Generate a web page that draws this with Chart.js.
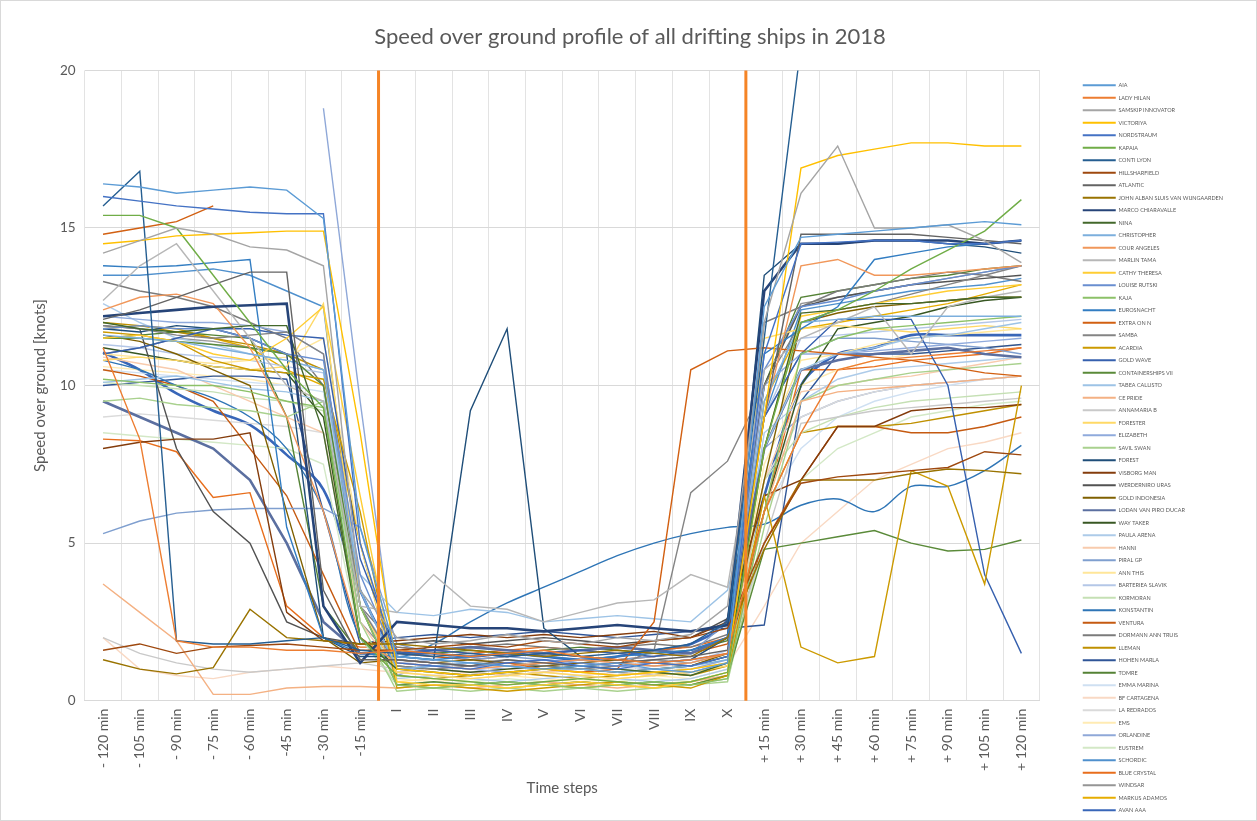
<!DOCTYPE html>
<html>
<head>
<meta charset="utf-8">
<script src="https://cdn.jsdelivr.net/npm/chart.js@4.4.1/dist/chart.umd.min.js"></script>
<style>
  html, body { margin: 0; padding: 0; background: #fff; }
  #wrap { width: 1255px; height: 819px; border: 1px solid #d9d9d9; }
</style>
</head>
<body>
<div id="wrap"><canvas id="sogChart" width="1255" height="819"></canvas></div>
<script>
// time steps: 8 before drift, 10 drift steps, 8 after
const timeSteps = ['- 120 min', '- 105 min', '- 90 min', '- 75 min', '- 60 min', '-45 min', '- 30 min', '-15 min',
  'I', 'II', 'III', 'IV', 'V', 'VI', 'VII', 'VIII', 'IX', 'X',
  '+ 15 min', '+ 30 min', '+ 45 min', '+ 60 min', '+ 75 min', '+ 90 min', '+ 105 min', '+ 120 min'];

const yTicks = [0, 5, 10, 15, 20];

const ships = ['AIA', 'LADY HILAN', 'SAMSKIP INNOVATOR', 'VICTORIYA', 'NORDSTRAUM', 'KAPAIA', 'CONTI LYON',
  'HILLSHARFIELD', 'ATLANTIC', 'JOHN ALBAN SLUIS VAN WIJNGAARDEN', 'MARCO CHIARAVALLE', 'NINA', 'CHRISTOPHER',
  'COUR ANGELES', 'MARLIN TAMA', 'CATHY THERESA', 'LOUISE RUTSKI', 'KAJA', 'EUROSNACHT', 'EXTRA ON N', 'SAMBA',
  'ACARDIA', 'GOLD WAVE', 'CONTAINERSHIPS VII', 'TABEA CALLISTO', 'CE PRIDE', 'ANNAMARIA B', 'FORESTER',
  'ELIZABETH', 'SAVIL SWAN', 'FOREST', 'VISBORG MAN', 'WERDERNIRO URAS', 'GOLD INDONESIA', 'LODAN VAN PIRO DUCAR',
  'WAY TAKER', 'PAULA ARENA', 'HANNI', 'PIRAL GP', 'ANN THIS', 'BARTERIEA SLAVIK', 'KORMORAN', 'KONSTANTIN',
  'VENTURA', 'DORMANN ANN TRUIS', 'LLEMAN', 'HOHEN MARLA', 'TOMRE', 'EMMA MARINA', 'BF CARTAGENA', 'LA REDRADOS',
  'EMS', 'ORLANDINE', 'EUSTREM', 'SCHORDIC', 'BLUE CRYSTAL', 'WINDSAR', 'MARKUS ADAMOS', 'AVAN AAA'];

// speed over ground [knots], one array per ship
const sog = [
  [16.4,16.3,16.1,16.2,16.3,16.2,15.3,5.5, 1.4,1.3,1.2,1.1,1.0,1.1,1.2,1.0,0.9,1.2, 12.5,14.7,14.8,14.9,15.0,15.1,15.2,15.1],
  [11.2,8.3,1.9,1.7,1.7,1.6,1.6,1.5, 1.6,1.5,1.4,1.5,1.6,1.4,1.3,1.2,1.3,1.5, 6.0,8.5,10.5,10.8,10.9,11.0,11.1,11.2],
  [14.2,14.6,15.0,14.8,14.4,14.3,13.8,3.5, 2.0,1.8,1.9,2.1,1.9,1.8,2.0,1.9,2.1,3.0, 12.0,16.1,17.6,15.0,15.0,15.1,14.6,13.9],
  [14.5,14.6,14.75,14.8,14.85,14.9,14.9,8.5, 1.0,0.9,0.8,0.9,1.0,0.9,0.8,0.9,1.0,1.2, 9.0,16.9,17.3,17.5,17.7,17.7,17.6,17.6],
  [16.0,15.85,15.7,15.6,15.5,15.45,15.45,5.0, 1.2,1.1,1.0,1.2,1.3,1.1,1.0,1.2,1.1,1.4, 11.0,14.5,14.55,14.6,14.6,14.5,14.5,14.6],
  [15.4,15.4,15.0,13.5,12.0,10.5,9.3,2.0, 0.8,0.7,0.6,0.5,0.6,0.7,0.6,0.5,0.6,0.9, 8.0,12.0,12.4,13.0,13.7,14.3,14.9,15.9],
  [15.7,16.8,1.9,1.8,1.8,1.9,2.0,1.6, 1.5,1.4,1.5,1.4,1.5,1.4,1.5,1.6,1.8,2.5, 11.5,20.8,21.5,22,22,22,22,22],
  [1.6,1.8,1.5,1.7,1.75,1.8,1.7,1.6, 1.6,1.7,1.8,1.7,1.9,1.8,1.7,1.9,2.0,2.3, 5.0,6.9,7.1,7.2,7.3,7.4,7.9,7.8],
  [12.1,12.4,12.8,13.2,13.6,13.6,3.5,1.3, 1.3,1.2,1.1,1.3,1.2,1.1,1.2,1.3,1.4,1.6, 9.0,14.8,14.8,14.8,14.8,14.7,14.6,14.5],
  [1.3,1.0,0.85,1.05,2.9,2.0,1.9,1.8, 1.8,1.7,1.6,1.5,1.4,1.5,1.6,1.5,1.4,2.0, 4.8,7.0,7.0,7.0,7.2,7.35,7.3,7.2],
  [12.2,12.3,12.4,12.5,12.55,12.6,3.0,1.2, 2.5,2.4,2.3,2.3,2.2,2.3,2.4,2.3,2.2,2.4, 13.0,14.5,14.5,14.6,14.6,14.6,14.5,14.6],
  [12.0,11.8,11.7,11.8,11.9,11.9,8.5,2.0, 1.0,0.9,0.8,0.9,1.0,1.1,1.0,0.9,0.8,1.2, 8.0,12.3,12.4,12.6,12.6,12.7,12.8,12.8],
  [11.6,11.5,11.4,11.2,11.0,10.8,10.5,3.5, 1.0,1.1,1.2,1.1,1.0,1.0,0.9,1.0,1.1,1.3, 9.5,12.0,12.1,12.2,12.2,12.2,12.2,12.2],
  [12.4,12.8,12.9,12.6,11.2,9.0,6.0,2.0, 1.2,1.1,1.0,1.1,1.2,1.3,1.2,1.1,1.2,1.5, 9.0,13.8,14.0,13.5,13.5,13.6,13.7,13.8],
  [12.7,13.8,14.5,13.0,11.5,10.0,9.5,3.0, 2.8,4.0,3.0,2.9,2.5,2.8,3.1,3.2,4.0,3.6, 10.5,11.5,12.0,12.5,11.0,12.5,12.8,13.0],
  [11.5,11.6,11.4,11.0,10.8,11.5,12.5,6.5, 0.6,0.5,0.5,0.4,0.5,0.6,0.5,0.4,0.6,0.9, 8.0,12.2,12.4,12.6,12.8,13.0,13.1,13.2],
  [11.8,11.9,11.8,11.8,11.5,11.0,10.8,4.0, 1.3,1.2,1.1,1.2,1.3,1.2,1.1,1.2,1.3,1.5, 10.5,12.5,12.7,13.0,13.2,13.4,13.6,13.8],
  [10.2,10.1,10.0,10.0,9.8,9.5,9.3,3.0, 0.5,0.4,0.5,0.6,0.5,0.4,0.5,0.6,0.5,0.7, 6.0,11.0,11.5,11.8,11.9,12.0,12.1,12.2],
  [13.8,13.75,13.8,13.9,14.0,5.5,2.0,1.5, 1.4,1.3,1.4,1.5,1.4,1.3,1.4,1.5,1.6,2.0, 11.0,11.8,12.5,14.0,14.2,14.4,14.5,14.6],
  [14.8,15.0,15.2,15.7,null,null,null,null, 1.3,1.2,1.1,1.2,1.0,0.9,1.0,2.5,10.5,11.1, 11.2,11.1,11.0,10.9,10.8,10.6,10.4,10.3],
  [11.9,11.8,11.6,11.5,11.6,11.7,11.0,3.0, 1.1,1.0,1.1,1.2,1.1,1.0,1.1,1.6,6.6,7.6, 10.0,12.0,12.4,12.6,12.9,13.2,13.5,13.8],
  [11.7,11.6,11.4,10.8,10.5,10.4,10.2,6.0, 0.4,0.5,0.4,0.3,0.4,0.5,0.6,0.5,0.4,0.8, 6.5,1.7,1.2,1.4,7.3,6.8,3.7,10.0],
  [11.0,11.2,11.5,11.8,11.8,11.6,11.5,4.5, 1.5,1.6,1.5,1.4,1.5,1.6,1.5,1.4,1.6,2.0, 9.0,11.0,12.1,12.1,12.1,10.0,4.0,1.5],
  [11.5,11.5,11.4,11.3,11.2,11.0,10.0,3.0, 0.5,0.6,0.5,0.6,0.5,0.6,0.5,0.6,0.5,0.8, 4.8,5.0,5.2,5.4,5.0,4.75,4.8,5.1],
  [10.1,10.2,10.3,10.1,9.9,9.8,9.5,4.0, 2.8,2.7,2.9,2.8,2.5,2.6,2.7,2.6,2.5,3.5, 8.0,10.5,11.0,11.2,11.5,11.6,11.8,12.0],
  [3.7,2.8,1.9,0.2,0.2,0.4,0.45,0.45, 0.4,0.5,0.4,0.5,0.6,0.5,0.4,0.5,0.6,0.8, 6.0,9.5,9.8,9.9,10.0,10.1,10.2,10.3],
  [2.0,1.5,1.2,1.0,0.9,1.0,1.1,1.2, 1.0,0.9,0.8,0.9,1.0,0.9,0.8,0.9,1.0,1.2, 5.0,8.8,9.0,9.2,9.3,9.4,9.5,9.6],
  [10.8,10.9,10.8,10.6,10.5,10.6,12.6,3.0, 0.9,0.8,0.7,0.8,0.9,0.8,0.7,0.8,0.9,1.1, 11.5,11.8,11.9,11.8,11.7,11.8,11.9,11.8],
  [12.2,12.1,12.0,12.0,11.9,11.7,11.0,3.5, 1.0,1.1,1.0,0.9,1.0,1.1,1.0,0.9,1.0,1.3, 10.0,11.0,11.0,11.1,11.2,11.3,11.4,11.5],
  [9.5,9.6,9.4,9.3,9.2,9.0,9.5,2.5, 0.3,0.4,0.3,0.4,0.3,0.4,0.3,0.4,0.5,0.6, 5.5,9.5,10.0,10.2,10.4,10.5,10.6,10.7],
  [11.8,11.7,11.9,11.8,11.5,11.0,2.0,1.4, 1.4,1.3,9.2,11.8,2.3,1.4,1.3,1.2,1.3,2.0, 13.5,14.5,14.5,14.6,14.6,14.5,14.4,14.2],
  [8.0,8.2,8.3,8.3,8.5,2.8,1.9,1.8, 1.9,2.0,2.1,2.0,2.1,2.0,2.1,2.2,2.0,2.5, 6.5,7.0,8.7,8.7,9.2,9.3,9.3,9.4],
  [11.9,11.8,8.0,6.0,5.0,2.5,2.0,1.8, 1.8,1.9,1.8,1.9,2.0,1.9,1.8,1.9,2.0,2.6, 10.0,12.5,12.8,13.0,13.2,13.3,13.4,13.5],
  [11.6,11.4,11.0,10.5,10.0,6.0,2.0,1.2, 1.3,1.2,1.3,1.2,1.1,1.2,1.3,1.2,1.1,1.5, 7.0,12.0,12.3,12.5,12.6,12.7,12.8,12.8],
  [9.5,9.0,8.5,8.0,7.0,5.0,2.5,1.5, 1.5,1.6,1.7,1.6,1.5,1.6,1.7,1.6,1.5,2.0, 8.0,10.5,10.8,11.0,11.1,11.2,11.0,10.9],
  [11.2,11.0,10.8,10.6,10.5,10.4,9.0,2.0, 1.1,1.0,0.9,1.0,1.1,1.0,0.9,1.0,1.1,1.4, 6.0,10.0,11.8,12.0,12.2,12.5,12.7,12.8],
  [12.6,12.0,11.5,11.3,11.0,10.8,10.5,3.0, 0.7,0.8,0.7,0.6,0.7,0.8,0.7,0.6,0.7,1.0, 8.5,9.5,10.2,10.5,10.6,10.7,10.8,10.9],
  [10.9,10.7,10.5,10.0,9.5,9.0,8.5,2.5, 0.9,1.0,0.9,0.8,0.9,1.0,0.9,0.8,0.9,1.2, 7.0,9.8,10.0,10.2,10.3,10.5,10.7,10.9],
  [5.3,5.7,5.95,6.05,6.1,6.1,6.1,5.5, 1.8,1.5,1.3,1.4,1.3,1.2,1.3,1.4,1.5,2.5, 9.0,11.0,11.5,11.5,11.4,11.3,11.2,11.0],
  [11.0,10.9,10.8,10.7,10.8,10.9,11.5,5.0, 0.6,0.7,0.6,0.5,0.6,0.7,0.6,0.5,0.6,0.9, 8.0,10.8,11.0,11.3,11.5,11.6,11.7,11.8],
  [11.3,11.2,11.0,10.9,10.8,10.6,10.4,3.0, 1.2,1.3,1.2,1.1,1.2,1.3,1.2,1.1,1.2,1.6, 9.0,11.5,11.6,11.7,11.8,11.9,12.0,12.1],
  [10.1,10.0,9.9,9.8,9.6,9.5,9.2,2.0, 0.5,0.6,0.5,0.4,0.5,0.6,0.5,0.4,0.5,0.7, 7.0,8.5,9.0,9.3,9.5,9.6,9.7,9.8],
  [10.8,10.5,10.0,9.6,9.0,8.0,6.0,2.0, 1.4,1.8,2.5,3.1,3.6,4.1,4.6,5.0,5.3,5.5, 5.6,6.2,6.4,6.0,6.8,6.8,7.3,8.1],
  [10.5,10.3,10.0,9.5,8.0,6.5,4.0,1.5, 1.5,1.4,1.3,1.4,1.5,1.4,1.3,1.4,1.5,1.8, 5.0,7.0,8.7,8.7,8.5,8.5,8.7,9.0],
  [13.3,13.0,12.8,12.5,12.0,11.5,10.0,3.0, 1.7,1.6,1.7,1.8,1.7,1.6,1.7,1.8,1.7,2.1, 12.0,12.5,13.0,13.2,13.4,13.6,13.5,13.3],
  [12.0,11.9,11.7,11.5,11.3,11.0,10.5,5.0, 0.8,0.7,0.8,0.9,0.8,0.7,0.8,0.9,0.8,1.1, 6.0,8.5,8.7,8.7,8.8,9.0,9.2,9.4],
  [10.0,10.1,10.2,10.3,10.3,10.2,6.0,1.8, 2.0,2.1,2.0,2.1,2.2,2.1,2.0,2.1,2.2,2.3, 2.4,9.5,11.0,11.0,11.0,11.1,11.2,11.3],
  [11.5,11.6,11.7,11.6,11.5,9.0,3.0,1.5, 1.6,1.5,1.6,1.5,1.6,1.7,1.6,1.5,1.6,1.9, 10.0,12.8,13.0,13.2,13.4,13.5,13.7,13.8],
  [10.5,10.4,10.3,10.2,10.1,10.0,9.8,2.0, 0.5,0.6,0.5,0.6,0.5,0.6,0.5,0.6,0.5,0.7, 6.0,8.0,9.0,9.5,9.8,10.0,10.2,10.3],
  [2.0,1.0,0.8,0.7,0.9,1.0,1.1,1.0, 0.9,0.8,0.9,1.0,0.9,0.8,0.9,1.0,0.9,1.1, 3.0,5.0,6.0,7.0,7.5,8.0,8.2,8.5],
  [9.0,9.1,9.0,8.9,8.8,8.7,8.5,2.0, 1.0,1.1,1.0,1.1,1.0,1.1,1.0,1.1,1.0,1.3, 7.0,9.0,9.5,9.8,10.0,10.1,10.2,10.3],
  [10.6,10.5,10.4,10.3,10.2,10.0,9.5,3.0, 0.7,0.6,0.7,0.8,0.7,0.6,0.7,0.8,0.7,1.0, 7.5,10.0,10.5,10.8,11.0,11.1,11.2,11.3],
  [null,null,null,null,null,null,18.8,9.5, 0.8,1.2,1.1,1.0,1.1,1.2,1.1,1.0,1.1,1.4, 8.0,9.0,9.5,9.8,10.0,10.1,10.2,10.3],
  [8.5,8.4,8.3,8.2,8.1,8.0,7.5,2.0, 0.6,0.5,0.6,0.7,0.6,0.5,0.6,0.7,0.6,0.8, 5.0,7.0,8.0,8.5,9.0,9.2,9.4,9.5],
  [13.5,13.5,13.6,13.7,13.5,13.0,12.5,3.0, 0.9,1.0,0.9,0.8,0.9,1.0,0.9,0.8,0.9,1.2, 9.0,12.4,12.6,12.8,13.0,13.1,13.2,13.4],
  [8.3,8.25,7.9,6.45,6.6,3.0,2.0,1.7, 1.7,1.6,1.5,1.6,1.7,1.6,1.5,1.6,1.7,2.0, 6.0,10.5,10.5,10.6,10.8,10.9,11.0,11.2],
  [11.0,11.2,11.5,11.4,11.2,11.0,10.0,2.5, 1.2,1.1,1.2,1.3,1.2,1.1,1.2,1.3,1.2,1.5, 10.0,12.6,12.8,13.0,13.2,13.4,13.6,13.8],
  [11.8,11.9,11.8,11.5,11.2,10.5,10.0,5.0, 0.5,0.4,0.5,0.4,0.5,0.4,0.5,0.4,0.5,0.8, 9.5,11.8,12.0,12.2,12.4,12.6,12.9,13.2],
  [11.05,10.5,9.75,9.2,8.75,7.8,6.7,3.5, 1.6,1.5,1.4,1.5,1.4,1.3,1.4,1.6,1.8,2.6, 6.5,10.0,11.0,11.2,11.6,11.6,11.6,11.6]
];

const shipColors = ['#5B9BD5', '#ED7D31', '#A5A5A5', '#FFC000', '#4472C4', '#70AD47', '#255E91', '#9E480E',
  '#636363', '#997300', '#264478', '#43682B', '#7CAFDD', '#F1975A', '#B7B7B7', '#FFCD33', '#698ED0', '#8CC168',
  '#327DC2', '#D26012', '#848484', '#CC9A00', '#3660AE', '#5A8A39', '#9DC3E6', '#F4B183', '#C9C9C9', '#FFD966',
  '#8FAADC', '#A9D18E', '#1F4E79', '#843C0C', '#525252', '#7F6000', '#5B6FA0', '#385723', '#ADCBE9', '#F8CBAD',
  '#7F9FCF', '#FFE699', '#B4C7E7', '#C5E0B4', '#2E75B6', '#C55A11', '#7B7B7B', '#BF9000', '#2F5597', '#548235',
  '#CFE0F2', '#F9D9C4', '#DADADA', '#FFEBB3', '#8FA8D8', '#D3E8C6', '#4F90CD', '#E86E1C', '#959595', '#E6AD00',
  '#3866B8'];
const thickShips = ['MARCO CHIARAVALLE', 'LODAN VAN PIRO DUCAR', 'AVAN AAA'];
const smoothShips = ['KONSTANTIN', 'AVAN AAA'];

const datasets = ships.map((name, i) => ({
  label: name,
  data: sog[i],
  borderColor: shipColors[i],
  backgroundColor: shipColors[i],
  borderWidth: thickShips.includes(name) ? 2.6 : 1.4,
  pointRadius: 0,
  tension: smoothShips.includes(name) ? 0.35 : 0,
  spanGaps: false
}));

// orange separators between the phases (after '-15 min' and after 'X')
const phaseBreaks = ['-15 min', 'X'];
const phaseLines = {
  id: 'phaseLines',
  afterDatasetsDraw(chart) {
    const xs = chart.scales.x, ys = chart.scales.y, ctx = chart.ctx;
    ctx.save();
    ctx.strokeStyle = '#F58426';
    ctx.lineWidth = 3;
    phaseBreaks.forEach(lbl => {
      const i = timeSteps.indexOf(lbl);
      const px = (xs.getPixelForValue(i) + xs.getPixelForValue(i + 1)) / 2;
      ctx.beginPath();
      ctx.moveTo(px, ys.top);
      ctx.lineTo(px, ys.bottom);
      ctx.stroke();
    });
    ctx.restore();
  }
};

const fontFam = 'Lato, "Open Sans", sans-serif';

const config = {
  type: 'line',
  data: { labels: timeSteps, datasets: datasets },
  options: {
    responsive: false,
    animation: false,
    layout: { padding: { left: 26, right: 23, top: 0, bottom: 0 } },
    plugins: {
      title: {
        display: true,
        text: 'Speed over ground profile of all drifting ships in 2018',
        color: '#595959',
        font: { family: fontFam, size: 22, weight: 'normal' },
        padding: { top: 23, bottom: 20 }
      },
      legend: {
        position: 'right',
        align: 'end',
        labels: {
          boxWidth: 33,
          boxHeight: 2,
          padding: 7.0,
          color: '#595959',
          font: { family: fontFam, size: 5.5 },
          generateLabels(chart) {
            return Chart.defaults.plugins.legend.labels.generateLabels(chart).map(l => {
              l.fillStyle = l.strokeStyle;
              l.lineWidth = 0;
              return l;
            });
          }
        }
      },
      tooltip: { enabled: false }
    },
    scales: {
      x: {
        offset: true,
        grid: { offset: true, color: '#e3e3e3', drawTicks: false },
        border: { color: '#d9d9d9' },
        ticks: { color: '#595959', font: { family: fontFam, size: 14 }, minRotation: 90, maxRotation: 90, padding: 8 },
        title: { display: true, text: 'Time steps', color: '#595959', font: { family: fontFam, size: 15 }, padding: { top: 0, bottom: 23 } }
      },
      y: {
        min: yTicks[0],
        max: yTicks[yTicks.length - 1],
        afterBuildTicks(scale) { scale.ticks = yTicks.map(v => ({ value: v })); },
        grid: { color: '#d9d9d9', drawTicks: false },
        border: { display: false },
        ticks: { color: '#595959', font: { family: fontFam, size: 13.5 }, padding: 9 },
        title: { display: true, text: 'Speed over ground [knots]', color: '#595959', font: { family: fontFam, size: 15 }, padding: { top: 4, bottom: 2 } }
      },
      // empty axis that only keeps a gap between the plot and the legend
      gap: {
        type: 'linear',
        position: 'right',
        display: true,
        grid: { display: false },
        border: { display: false },
        ticks: { display: false },
        afterFit(scale) { scale.width = 36; }
      }
    }
  },
  plugins: [phaseLines]
};

const sogChart = new Chart(document.getElementById('sogChart'), config);
</script>
</body>
</html>
